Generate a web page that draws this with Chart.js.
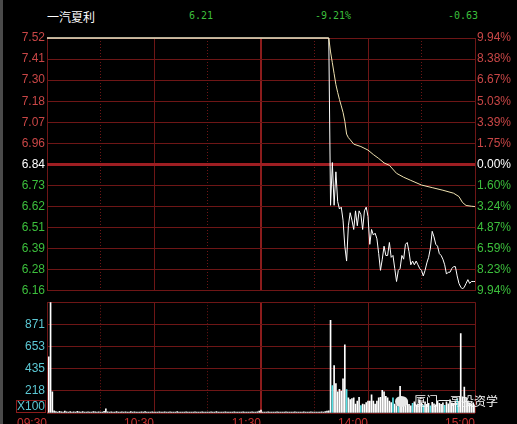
<!DOCTYPE html>
<html>
<head>
<meta charset="utf-8">
<script src="https://cdn.jsdelivr.net/npm/chart.js@4.4.0/dist/chart.umd.min.js"></script>
<style>
  html, body { margin: 0; padding: 0; background: #000; }
  body { width: 517px; height: 424px; position: relative; overflow: hidden; }
  #price-box { position: absolute; left: 0; top: 0; width: 517px; height: 300px; }
  #volume-box { position: absolute; left: 0; top: 293px; width: 517px; height: 131px; }
  .edge { position: absolute; left: 0; top: 0; width: 3px; height: 424px; background: #4a4a4a; }
  .quote { position: absolute; top: 10px; font: 10px 'DejaVu Sans Mono', monospace; color: #3cbf3c; }
  #stock-name { position: absolute; left: 47px; top: 8px; font: 12px 'Noto Sans CJK SC', sans-serif; color: #fff; }
  #unit { position: absolute; left: 16px; top: 400px; width: 28px; height: 11px; border: 1px solid #8c1c1c;
          font: 12px 'Liberation Sans', Arial, sans-serif; line-height: 11px; color: #5cc8d4; text-align: right; }
  #mark { position: absolute; left: 395px; top: 392px; font: 12px 'Noto Sans CJK SC', sans-serif; color: #f4f4f4; }
  #mark i { display: inline-block; width: 13px; height: 11px; border-radius: 50%; background: #e8e8e8; margin-right: 6px; vertical-align: -1px; }
</style>
</head>
<body>
<div class="edge"></div>
<div id="stock-name">一汽夏利</div>
<div class="quote" id="last-price" style="left:189px"></div>
<div class="quote" id="change-pct" style="left:315px"></div>
<div class="quote" id="change" style="left:448px"></div>
<div id="price-box"><canvas id="price-chart"></canvas></div>
<div id="volume-box"><canvas id="volume-chart"></canvas></div>
<div id="unit">X100</div>
<div id="mark"><i></i>厦门一哥投资学</div>
<script>
// minute index: 0 = 09:30, 120 = 11:30 / 13:00, 240 = 15:00
const preClose = 6.84;
const limitUp = 7.52;
const limitDown = 6.16;

const priceTickLabels = ['6.16', '6.28', '6.39', '6.51', '6.62', '6.73', '6.84', '6.96', '7.07', '7.18', '7.30', '7.41', '7.52'];
const pctTickLabels = ['9.94%', '8.23%', '6.59%', '4.87%', '3.24%', '1.60%', '0.00%', '1.75%', '3.39%', '5.03%', '6.67%', '8.38%', '9.94%'];
const volumeTicks = [0, 218, 435, 653, 871, 1089];
const timeGrid = [0, 30, 60, 90, 120, 150, 180, 210, 240];
const timeLabels = { 0: '09:30', 60: '10:30', 120: '11:30', 180: '14:00', 240: '15:00' };

// sealed at limit-up until the board broke
const sealedMinutes = [0, 158];
const sealedPrices = [7.52, 7.52];
// minute-by-minute price after the break, starting at minute 159
const breakStart = 159;
const breakPrices = [
  6.62, 6.85, 6.62, 6.80, 6.64, 6.60, 6.61, 6.54, 6.40, 6.32,
  6.51, 6.58, 6.54, 6.49, 6.59, 6.51, 6.59, 6.57, 6.49, 6.59,
  6.61, 6.56, 6.41, 6.49, 6.46, 6.47, 6.44, 6.36, 6.27, 6.33,
  6.40, 6.35, 6.35, 6.42, 6.34, 6.35, 6.28, 6.21, 6.27, 6.28,
  6.35, 6.33, 6.41, 6.42, 6.37, 6.30, 6.32, 6.30, 6.32, 6.30,
  6.28, 6.27, 6.24, 6.27, 6.31, 6.34, 6.39, 6.48, 6.45, 6.41,
  6.40, 6.36, 6.35, 6.33, 6.30, 6.25, 6.26, 6.26, 6.28, 6.29,
  6.29, 6.24, 6.20, 6.18, 6.17, 6.18, 6.20, 6.22, 6.20, 6.21,
  6.21, 6.21
];

const avgMinutes = [0, 158, 159, 160, 161, 162, 163, 164, 165, 166, 167, 168, 169, 170, 172, 176, 180, 183, 186, 189, 192, 196, 200, 204, 210, 216, 222, 228, 231, 233, 235, 238, 240];
const avgPrices = [7.52, 7.52, 7.445, 7.387, 7.328, 7.269, 7.227, 7.189, 7.155, 7.120, 7.072, 7.003, 6.984, 6.973, 6.949, 6.936, 6.917, 6.893, 6.872, 6.848, 6.835, 6.792, 6.771, 6.754, 6.729, 6.715, 6.701, 6.685, 6.667, 6.635, 6.619, 6.615, 6.613];

// volume per minute, in lots of 100 shares (index = minute)
const volumes = [
  0, 553, 1200, 209,
  22, 14, 10, 16, 12, 9, 18, 11, 9, 14, 10, 12, 9, 16, 11, 9, 13, 10, 9, 12,
  10, 9, 14, 11, 9, 12, 10, 9, 16, 40, 12, 9, 11, 10, 9, 13, 9, 10, 12, 9,
  11, 9, 10, 14, 9, 12, 9, 10, 9, 11, 9, 13, 9, 10, 9, 12, 9, 10, 9, 11,
  9, 10, 12, 9, 9, 11, 9, 10, 9, 13, 9, 9, 10, 9, 12, 9, 10, 9, 9, 11,
  9, 10, 9, 12, 9, 9, 10, 9, 11, 9, 9, 14, 9, 10, 9, 9, 11, 9, 10, 9,
  9, 12, 9, 9, 10, 9, 11, 9, 9, 10, 9, 12, 9, 10, 11, 18, 28,
  9, 10, 9, 11, 9, 9, 10, 9, 12, 9, 10, 9, 9, 11, 9, 10, 9, 9, 12, 9,
  10, 9, 9, 11, 9, 10, 9, 12, 9, 9, 10, 9, 9, 11, 9, 14, 18, 22,
  910, 269, 466, 290, 209, 233, 215, 336, 669, 230,
  148, 133, 142, 148, 88, 118, 154, 73, 88, 82,
  103, 118, 118, 179, 118, 88, 118, 148, 154, 224,
  209, 163, 148, 118, 103, 148, 88, 73, 64, 263,
  118, 100, 90, 120, 85, 70, 95, 110, 80, 90,
  130, 100, 75, 110, 85, 95, 70, 105, 90, 80,
  120, 95, 85, 100, 75, 110, 90, 130, 100, 95,
  120, 140, 110, 780, 160, 254, 150, 120, 100, 90,
  100, 80
];
// minutes whose volume traded on a falling price
const downMinutes = [160, 168, 176, 194, 197, 205, 211, 215, 223, 230];

const lastPrice = 6.21;

document.getElementById('last-price').textContent = lastPrice.toFixed(2);
document.getElementById('change-pct').textContent = '-' + ((preClose - lastPrice) / preClose * 100).toFixed(2) + '%';
document.getElementById('change').textContent = '-' + (preClose - lastPrice).toFixed(2);

const axisFont = { family: "'Liberation Sans', Arial, sans-serif", size: 12 };
const gridRed = '#6e1616';

function priceTicks(scale) {
  scale.ticks = priceTickLabels.map((_, i) => ({ value: limitDown + i * (limitUp - limitDown) / 12 }));
}
function timeTicks(scale) {
  scale.ticks = timeGrid.map((v) => ({ value: v }));
}
function priceColor(ctx) {
  const v = ctx.tick.value;
  if (Math.abs(v - preClose) < 0.001) return '#ffffff';
  return v > preClose ? '#c84646' : '#3cbf3c';
}
const timeGridStyle = {
  color: (ctx) => (ctx.tick && ctx.tick.value === 120 ? '#8c1c1c' : gridRed),
  lineWidth: (ctx) => (ctx.tick && ctx.tick.value === 120 ? 2 : 1),
  drawTicks: false,
};
const timeBorder = {
  display: false,
  dash: (ctx) => (ctx.tick && ctx.tick.value % 60 === 30 ? [1, 2] : []),
};

const sealedPoints = sealedMinutes.map((m, i) => ({ x: m, y: sealedPrices[i] }));
const breakPoints = breakPrices.map((p, i) => ({ x: breakStart + i, y: p }));

new Chart(document.getElementById('price-chart'), {
  type: 'line',
  data: {
    datasets: [
      {
        label: '均价',
        data: avgMinutes.map((m, i) => ({ x: m, y: avgPrices[i] })),
        borderColor: '#efe2b0',
        borderWidth: 1,
        pointRadius: 0,
        tension: 0,
        clip: 4,
      },
      {
        label: '价格',
        data: sealedPoints.concat(breakPoints),
        borderColor: '#ffffff',
        borderWidth: 1,
        pointRadius: 0,
        tension: 0,
        clip: 4,
      },
    ],
  },
  options: {
    responsive: true,
    maintainAspectRatio: false,
    animation: false,
    layout: { padding: { top: 38, bottom: 7, left: 0, right: 0 } },
    plugins: { legend: { display: false }, tooltip: { enabled: false } },
    scales: {
      x: {
        type: 'linear',
        min: 0,
        max: 240,
        afterBuildTicks: timeTicks,
        afterFit: (s) => { s.height = 0; },
        ticks: { display: false },
        grid: timeGridStyle,
        border: timeBorder,
      },
      y: {
        position: 'left',
        min: limitDown,
        max: limitUp,
        afterBuildTicks: priceTicks,
        afterFit: (s) => { s.width = 47; },
        ticks: {
          callback: (v, i) => priceTickLabels[i],
          color: priceColor,
          font: axisFont,
          padding: 2,
        },
        grid: {
          color: (ctx) => (ctx.tick && Math.abs(ctx.tick.value - preClose) < 0.001 ? '#9e1e22' : gridRed),
          lineWidth: (ctx) => (ctx.tick && Math.abs(ctx.tick.value - preClose) < 0.001 ? 3 : 1),
          drawTicks: false,
        },
        border: { display: false },
      },
      y2: {
        position: 'right',
        min: limitDown,
        max: limitUp,
        afterBuildTicks: priceTicks,
        afterFit: (s) => { s.width = 42; },
        ticks: {
          callback: (v, i) => pctTickLabels[i],
          color: priceColor,
          font: axisFont,
          padding: 2,
        },
        grid: { drawOnChartArea: false, drawTicks: false },
        border: { display: false },
      },
    },
  },
});

new Chart(document.getElementById('volume-chart'), {
  type: 'bar',
  data: {
    datasets: [
      {
        label: '成交量',
        data: volumes.map((v, m) => ({ x: m, y: v })),
        backgroundColor: (ctx) => (downMinutes.includes(ctx.dataIndex) ? '#54e0e4' : '#ffffff'),
        barThickness: 1,
        borderWidth: 0,
      },
    ],
  },
  options: {
    responsive: true,
    maintainAspectRatio: false,
    animation: false,
    layout: { padding: 0 },
    plugins: { legend: { display: false }, tooltip: { enabled: false } },
    scales: {
      x: {
        type: 'linear',
        min: 0,
        max: 240,
        offset: false,
        afterBuildTicks: timeTicks,
        afterFit: (s) => { s.height = 11; },
        ticks: {
          callback: (v) => timeLabels[v] || '',
          align: 'end',
          color: '#c83030',
          font: axisFont,
          padding: 3,
          maxRotation: 0,
          autoSkip: false,
        },
        grid: Object.assign({ offset: false }, timeGridStyle),
        border: timeBorder,
      },
      y: {
        position: 'left',
        min: 0,
        max: 1089,
        afterBuildTicks: (s) => { s.ticks = volumeTicks.map((v) => ({ value: v })); },
        afterFit: (s) => { s.width = 47; },
        ticks: {
          callback: (v, i) => (i > 0 && i < volumeTicks.length - 1 ? String(v) : ''),
          color: '#5cc8d4',
          font: axisFont,
          padding: 2,
        },
        grid: { color: gridRed, drawTicks: false },
        border: { display: false },
      },
      y2: {
        position: 'right',
        min: 0,
        max: 1089,
        afterFit: (s) => { s.width = 42; },
        ticks: { display: false },
        grid: { drawOnChartArea: false, drawTicks: false },
        border: { display: false },
      },
    },
  },
});
</script>
</body>
</html>
